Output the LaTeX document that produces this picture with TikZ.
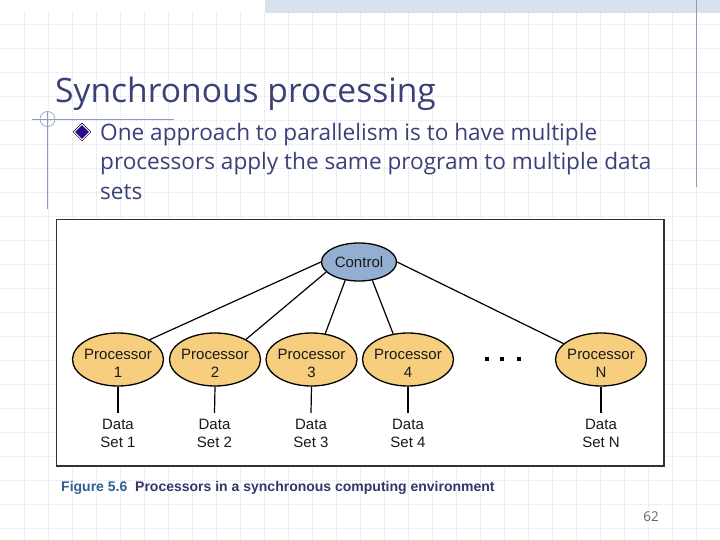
\documentclass[tikz,border=0pt]{standalone}
\usepackage{fontspec}
\setmainfont{Liberation Sans}
\newfontfamily\slidefont{Open Sans}
\usetikzlibrary{shapes.geometric}
\definecolor{gridc}{HTML}{DDE1EA}
\definecolor{bandc}{HTML}{D8E1EE}
\definecolor{rulec}{HTML}{8D9BC0}
\definecolor{titlec}{HTML}{3C4078}
\definecolor{orangec}{HTML}{F7CE7E}
\definecolor{bluec}{HTML}{94AED2}
\definecolor{figc}{HTML}{2F5F93}
\definecolor{capc}{HTML}{33366B}
\definecolor{bulletc}{HTML}{2A0A8C}
\newcommand{\plift}{\rule{0pt}{22pt}}
\newcommand{\pdrop}{\rule[-4pt]{0pt}{4pt}}
\tikzset{
 proc/.style={ellipse,draw=black,line width=1.3pt,fill=orangec,minimum width=91pt,minimum height=53pt,inner xsep=-3pt,inner ysep=-5pt,align=center,font=\fontsize{15}{18}\selectfont,text=black!90},
 ctrl/.style={ellipse,draw=black,line width=1.3pt,fill=bluec,minimum width=75pt,minimum height=38pt,inner sep=-2pt,font=\fontsize{15}{18}\selectfont,text=black!90},
 dataset/.style={align=center,inner sep=0pt,minimum height=40pt,font=\fontsize{15}{18}\selectfont,text=black!90},
 link/.style={draw=black,line width=1.2pt},
 gridline/.style={draw=gridc,line width=0.6pt,dash pattern=on 1pt off 1pt},
 slidetext/.style={anchor=base west,inner sep=0pt,text=titlec,font=\slidefont}
}
\begin{document}
\begin{tikzpicture}[x=1pt,y=-1pt]
\useasboundingbox (0,0) rectangle (720,540);
\fill[white] (0,0) rectangle (720,540);
\foreach \g in {24,48,...,696} \draw[gridline] (\g,13) -- (\g,540);
\foreach \g in {24,48,...,528} \draw[gridline] (0,\g) -- (720,\g);
\fill[bandc] (265,0) rectangle (720,13);
\draw[rulec,line width=0.8pt] (32,119) -- (174,119);
\draw[rulec,line width=0.8pt] (47.5,111) -- (47.5,209);
\draw[rulec,line width=0.6pt] (47.5,119) circle (7.5);
\draw[rulec,line width=0.8pt] (696.5,0) -- (696.5,187);
\node[slidetext,font=\slidefont\fontsize{33.6}{40}\selectfont] (title) at (55,103) {Synchronous processing};
\node[diamond,draw=black,fill=white,line width=0.5pt,minimum width=18pt,minimum height=18pt,inner sep=0pt] (bul) at (82,132) {};
\node[diamond,fill=bulletc,minimum width=14pt,minimum height=14pt,inner sep=0pt] (bulc) at (82,132) {};
\node[slidetext,font=\slidefont\fontsize{22.6}{28}\selectfont] (l1) at (100,140.5) {One approach to parallelism is to have multiple};
\node[slidetext,font=\slidefont\fontsize{22.6}{28}\selectfont] (l2) at (100,169.5) {processors apply the same program to multiple data};
\node[slidetext,font=\slidefont\fontsize{22.6}{28}\selectfont] (l3) at (100,199.5) {sets};
\draw[fill=white,draw=black!80,line width=1.2pt] (56.5,219.5) rectangle (664,466);
\node[ctrl] (c) at (359,262) {Control};
\node[proc] (p1) at (118,359.5) {\plift Processor\\1\pdrop};
\node[proc] (p2) at (215,359.5) {\plift Processor\\2\pdrop};
\node[proc] (p3) at (311.5,359.5) {\plift Processor\\3\pdrop};
\node[proc] (p4) at (408,359.5) {\plift Processor\\4\pdrop};
\node[proc] (pn) at (601,359.5) {\plift Processor\\N\pdrop};
\node[dataset] (d1) at (118,433) {Data\\Set 1};
\node[dataset] (d2) at (214.5,433) {Data\\Set 2};
\node[dataset] (d3) at (311,433) {Data\\Set 3};
\node[dataset] (d4) at (408,433) {Data\\Set 4};
\node[dataset] (dn) at (601,433) {Data\\Set N};
\draw[link] (c.180) -- (p1.32);
\draw[link] (c.197) -- (p2.33);
\draw[link] (c.233) -- (p3.62);
\draw[link] (c.306) -- (p4.120);
\draw[link] (c.0) -- (pn.157);
\foreach \a/\b in {p1/d1,p2/d2,p3/d3,p4/d4,pn/dn} \draw[link] (\a.south) -- (\b.north);
\foreach \x in {487,502,519} \fill[black] (\x-2,357) rectangle (\x+2,361);
\node[anchor=base west,inner sep=0pt,font=\bfseries\fontsize{14}{16}\selectfont,text=figc] (fig) at (61,491) {Figure 5.6};
\node[anchor=base west,inner sep=0pt,font=\bfseries\fontsize{14}{16}\selectfont,text=capc] (cap) at (135,491) {Processors in a synchronous computing environment};
\node[anchor=base east,inner sep=0pt,font=\slidefont\fontsize{13.5}{16}\selectfont,text=black!60] (num) at (659,521) {62};
\end{tikzpicture}
\end{document}
